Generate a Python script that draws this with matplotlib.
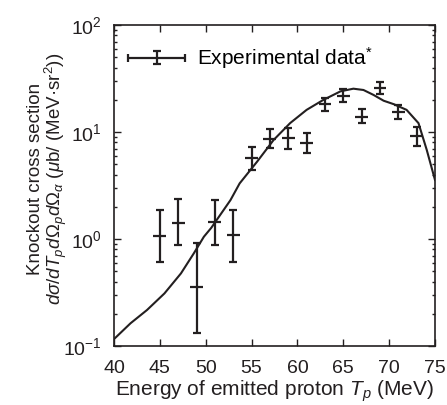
import matplotlib
matplotlib.use("Agg")
import matplotlib.pyplot as plt
import numpy as np
from matplotlib.legend_handler import HandlerErrorbar
from matplotlib.ticker import LogLocator, NullFormatter, MultipleLocator

plt.rcParams["font.family"] = ["Liberation Sans", "DejaVu Sans"]
plt.rcParams["mathtext.fontset"] = "custom"
plt.rcParams["mathtext.rm"] = "Liberation Sans"
plt.rcParams["mathtext.it"] = "Liberation Sans:italic"
plt.rcParams["mathtext.bf"] = "Liberation Sans:bold"

INK = "#231f20"

# experimental points
energy = np.array([45, 47, 49, 51, 53, 55, 57, 59, 61, 63, 65, 67, 69, 71, 73])
xsec = np.array([1.07, 1.42, 0.355, 1.44, 1.09, 5.75, 8.55, 8.73, 7.84,
                 18.2, 21.8, 13.9, 25.6, 15.3, 9.25])
xsec_lo = np.array([0.61, 0.88, 0.131, 0.88, 0.61, 4.41, 7.04, 6.89, 6.32,
                    15.7, 19.2, 12.2, 22.5, 13.2, 7.4])
xsec_hi = np.array([1.87, 2.35, 0.925, 2.31, 1.87, 7.29, 10.6, 10.97, 9.72,
                    20.6, 25.0, 16.3, 29.5, 17.9, 11.2])
energy_err = 0.7

# calculated curve
curve_e = [40, 41.8, 43.6, 45.5, 47.3, 48.7, 49.8, 50.6, 52.7, 53.7, 55.6,
           57.4, 59.2, 61.0, 62.8, 64.7, 66.1, 67.2, 68.3, 69.4, 70.5,
           71.9, 73.2, 74.1, 75.0]
curve_xs = [0.116, 0.163, 0.217, 0.310, 0.477, 0.734, 1.05, 1.27, 2.31, 3.31,
            5.28, 8.42, 12.1, 16.1, 19.9, 24.0, 25.4, 24.7, 22.2, 19.6,
            18.2, 16.1, 12.1, 6.8, 3.56]

fig = plt.figure(figsize=(4.47, 4.05), dpi=100)
ax = fig.add_axes([114 / 447, 1 - 346 / 405, 321 / 447, 321 / 405])

ax.plot(curve_e, curve_xs, color=INK, lw=1.5)

eb = ax.errorbar(energy, xsec, yerr=[xsec - xsec_lo, xsec_hi - xsec],
                 xerr=energy_err, fmt="none", ecolor=INK, elinewidth=1.6,
                 capsize=2.8, capthick=1.6, label="Experimental data$^{*}$")

ax.legend(handles=[eb], loc="center left", bbox_to_anchor=(0.045, 0.897),
          frameon=False, fontsize=15, handlelength=2.7, handletextpad=0.6,
          borderpad=0, borderaxespad=0,
          handler_map={type(eb): HandlerErrorbar(xerr_size=1.35, yerr_size=0.3)})
# no caps on the horizontal bars of the data points
eb[1][0].set_visible(False)
eb[1][1].set_visible(False)

ax.set_yscale("log")
ax.set_xlim(40, 75)
ax.set_ylim(0.1, 100)
ax.xaxis.set_major_locator(MultipleLocator(5))
ax.yaxis.set_major_locator(LogLocator(base=10, numticks=10))
ax.yaxis.set_minor_locator(LogLocator(base=10, subs=np.arange(2, 10), numticks=10))
ax.yaxis.set_minor_formatter(NullFormatter())

ax.tick_params(which="both", direction="in", top=True, right=True,
               color=INK, labelcolor=INK, width=1.0)
ax.tick_params(which="major", length=5, labelsize=14)
ax.tick_params(which="minor", length=2.5)
ax.tick_params(axis="x", which="major", pad=10)
ax.tick_params(axis="y", which="major", pad=9)
for s in ax.spines.values():
    s.set_color(INK)
    s.set_linewidth(1.2)

ax.set_xlabel("Energy of emitted proton $T_p$ (MeV)", fontsize=15, color=INK,
              labelpad=1)
ax.set_ylabel("Knockout cross section\n"
              "$d\\sigma/dT_pd\\Omega_pd\\Omega_\\alpha$ ($\\mu$b/ (MeV·sr$^2$))",
              fontsize=13.5, color=INK, linespacing=0.95)
ax.yaxis.set_label_coords(-0.14, 0.52)

fig.savefig("out.png", dpi=100)
